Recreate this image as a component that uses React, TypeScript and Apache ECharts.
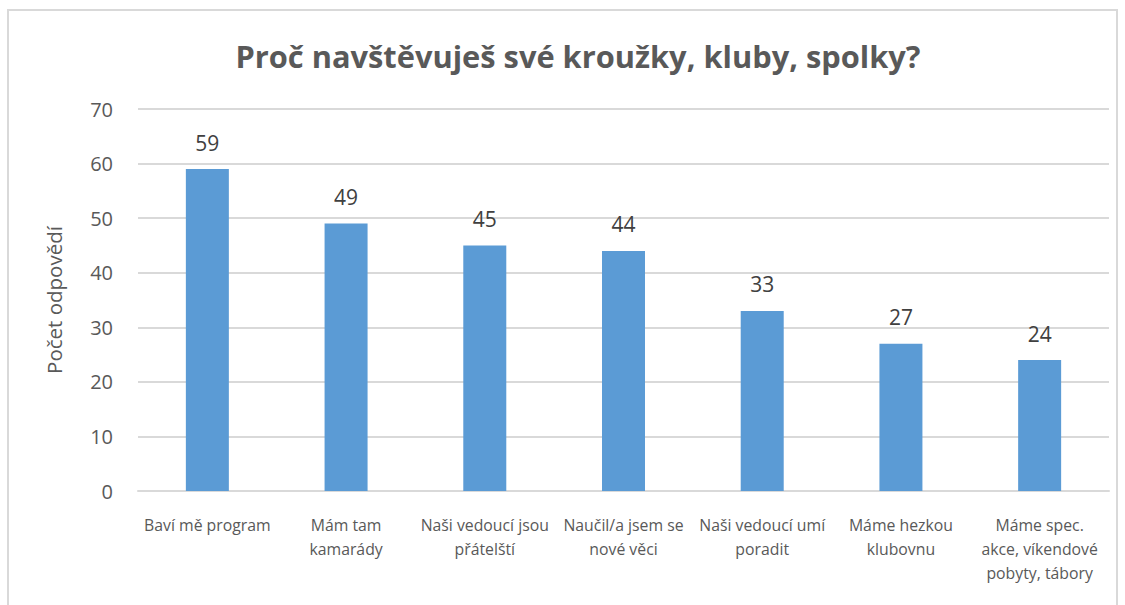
import React, { useEffect, useRef } from "react";
import * as echarts from "echarts";

const categories = [
  "Baví mě program",
  "Mám tam\nkamarády",
  "Naši vedoucí jsou\npřátelští",
  "Naučil/a jsem se\nnové věci",
  "Naši vedoucí umí\nporadit",
  "Máme hezkou\nklubovnu",
  "Máme spec.\nakce, víkendové\npobyty, tábory",
];
const values = [59, 49, 45, 44, 33, 27, 24];
const titleText = "Proč navštěvuješ své kroužky, kluby, spolky?";
const yAxisName = "Počet odpovědí";

export default function App() {
  const ref = useRef<HTMLDivElement>(null);
  useEffect(() => {
    if (!ref.current) return;
    const chart = echarts.init(ref.current, null, { renderer: "svg" });
    const font = "'Open Sans', sans-serif";
    chart.setOption({
      animation: false,
      backgroundColor: "#ffffff",
      title: {
        text: titleText,
        left: 573,
        textAlign: "center",
        top: 35,
        textStyle: { fontFamily: font, fontWeight: "bold", fontSize: 30.8, color: "#595959" },
      },
      graphic: [
        {
          type: "rect",
          shape: { x: 8, y: 10, width: 1109, height: 640 },
          style: { fill: "none", stroke: "#d9d9d9", lineWidth: 2 },
          silent: true,
        },
      ],
      grid: { left: 138, right: 16, top: 109, bottom: 114, containLabel: false },
      xAxis: {
        type: "category",
        data: categories,
        axisLine: { lineStyle: { color: "#d9d9d9", width: 2 } },
        axisTick: { show: false },
        axisLabel: {
          interval: 0,
          color: "#595959",
          fontFamily: font,
          fontSize: 15.8,
          lineHeight: 24,
          margin: 22,
        },
      },
      yAxis: {
        type: "value",
        min: 0,
        max: 70,
        interval: 10,
        name: yAxisName,
        nameLocation: "middle",
        nameGap: 74,
        nameTextStyle: { color: "#595959", fontFamily: font, fontSize: 20.5 },
        axisLine: { show: false },
        axisTick: { show: false },
        splitLine: { lineStyle: { color: "#d9d9d9", width: 2 } },
        axisLabel: { color: "#595959", fontFamily: font, fontSize: 20, margin: 25 },
      },
      series: [
        {
          type: "bar",
          data: values,
          barWidth: "31%",
          itemStyle: { color: "#5b9bd5" },
          label: {
            show: true,
            position: "top",
            distance: 16,
            color: "#404040",
            fontFamily: font,
            fontSize: 21,
          },
        },
      ],
    });
    return () => chart.dispose();
  }, []);
  return (
    <div
      ref={ref}
      style={{ position: "fixed", left: 0, top: 0, width: 1125, height: 605 }}
    />
  );
}
